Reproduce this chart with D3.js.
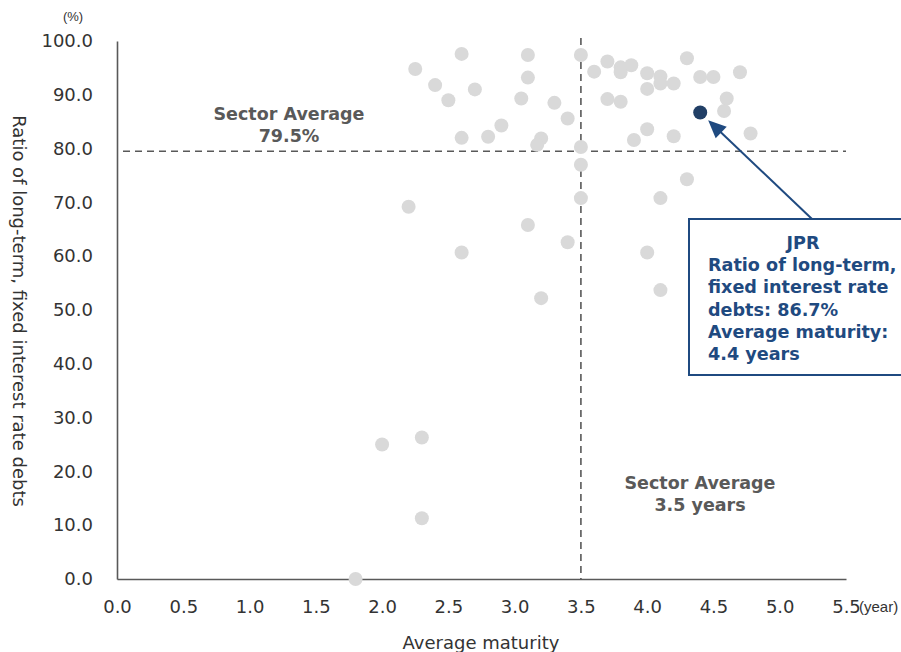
<!DOCTYPE html>
<html>
<head>
<meta charset="utf-8">
<script src="https://cdn.jsdelivr.net/npm/d3@7/dist/d3.min.js"></script>
<style>
  html, body { margin: 0; padding: 0; background: #fff; }
  svg { display: block; font-family: "DejaVu Sans", Verdana, sans-serif; }
</style>
</head>
<body>
<svg id="chart" width="901" height="652"></svg>
<script>
// Sector REITs: average maturity (years) vs. ratio of long-term, fixed interest rate debts (%)
const maturity = [2.25, 2.6, 3.1, 2.4, 2.7, 2.5, 3.1, 3.05, 3.3, 3.4, 2.9, 2.8, 2.6, 3.2, 3.17, 2.2,
  3.5, 3.5, 3.5, 3.5, 3.6, 3.7, 3.8, 3.88, 3.8, 4.0, 4.1, 4.1, 4.2, 4.3, 4.4, 4.5, 4.7, 4.0,
  3.7, 3.8, 4.6, 4.58, 4.78, 4.0, 3.9, 4.2, 4.3, 4.1, 2.6, 3.1, 3.4, 3.2, 4.0, 4.1, 2.0, 2.3, 2.3, 1.8];
const ratio = [94.8, 97.6, 97.4, 91.8, 91.0, 89.0, 93.2, 89.3, 88.5, 85.6, 84.3, 82.2, 82.0, 81.9, 80.7, 69.2,
  97.4, 80.3, 77.0, 70.8, 94.3, 96.2, 95.1, 95.5, 94.2, 94.0, 93.4, 92.1, 92.1, 96.8, 93.3, 93.3, 94.2, 91.1,
  89.2, 88.7, 89.3, 87.0, 82.8, 83.6, 81.6, 82.3, 74.3, 70.8, 60.7, 65.8, 62.6, 52.2, 60.7, 53.7, 25.0, 26.3, 11.3, 0.0];

const jprMaturity = 4.4;
const jprRatio = 86.7;
const avgMaturity = 3.5;
const avgRatio = 79.5;

const xTicks = [0, 0.5, 1, 1.5, 2, 2.5, 3, 3.5, 4, 4.5, 5, 5.5];
const yTicks = [0, 10, 20, 30, 40, 50, 60, 70, 80, 90, 100];

const jprLines = ["Ratio of long-term,", "fixed interest rate",
  "debts: " + jprRatio.toFixed(1) + "%", "Average maturity:", jprMaturity + " years"];

const svg = d3.select("#chart");
const plotLeft = 117, plotRight = 846, plotTop = 41, plotBottom = 579;

const x = d3.scaleLinear().domain([0, 5.5]).range([plotLeft, plotRight]);
const y = d3.scaleLinear().domain([0, 100]).range([plotBottom, plotTop]);

const axisColor = "#595959";
const textColor = "#333333";
const navy = "#1f4a80";
const narrow = "'Liberation Sans Narrow', 'Liberation Sans', Arial, sans-serif";

// Axes
const xAxis = svg.append("g").attr("transform", `translate(0,${plotBottom})`)
  .call(d3.axisBottom(x).tickValues(xTicks).tickFormat(d3.format(".1f")).tickSize(0).tickPadding(21));
const yAxis = svg.append("g").attr("transform", `translate(${plotLeft},0)`)
  .call(d3.axisLeft(y).tickValues(yTicks).tickFormat(d3.format(".1f")).tickSize(0).tickPadding(24));
[xAxis, yAxis].forEach(g => {
  g.select(".domain").attr("stroke", axisColor).attr("stroke-width", 1.6);
  g.selectAll("text").attr("fill", textColor).style("font-size", "18px")
    .style("font-family", "'DejaVu Sans', Verdana, sans-serif");
});

// Unit labels
svg.append("text").attr("x", 73).attr("y", 21).attr("text-anchor", "middle")
  .style("font-family", narrow).style("font-size", "13px").attr("fill", textColor).text("(%)");
svg.append("text").attr("x", 859).attr("y", 612)
  .style("font-family", narrow).style("font-size", "15px").attr("fill", textColor).text("(year)");

// Axis titles
svg.append("text").attr("x", 481).attr("y", 649).attr("text-anchor", "middle")
  .style("font-size", "18px").attr("fill", textColor).text("Average maturity");
svg.append("text").attr("transform", `translate(13,${(plotTop + plotBottom) / 2 + 1}) rotate(90)`)
  .attr("text-anchor", "middle").style("font-size", "18px").attr("fill", textColor)
  .text("Ratio of long-term, fixed interest rate debts");

// Sector average reference lines
svg.append("line").attr("x1", x(0) + 6).attr("x2", x(5.5)).attr("y1", y(avgRatio)).attr("y2", y(avgRatio))
  .attr("stroke", axisColor).attr("stroke-width", 1.6).attr("stroke-dasharray", "7,5");
svg.append("line").attr("x1", x(avgMaturity)).attr("x2", x(avgMaturity)).attr("y1", y(100) - 3).attr("y2", y(0))
  .attr("stroke", axisColor).attr("stroke-width", 1.6).attr("stroke-dasharray", "7,5");

// Sector points
svg.append("g").selectAll("circle").data(maturity).join("circle")
  .attr("cx", (d) => x(d)).attr("cy", (d, i) => y(ratio[i])).attr("r", 7)
  .attr("fill", "#d9d9d9");

// JPR point
svg.append("circle").attr("cx", x(jprMaturity)).attr("cy", y(jprRatio)).attr("r", 7)
  .attr("fill", "#213f66");

// Sector average labels
const avgLabel = (cx, cy, lines) => {
  const t = svg.append("text").attr("text-anchor", "middle").attr("fill", "#595959")
    .style("font-size", "17.5px").style("font-weight", "bold");
  lines.forEach((s, i) => t.append("tspan").attr("x", cx).attr("y", cy + i * 22).text(s));
};
avgLabel(289, 120, ["Sector Average", avgRatio.toFixed(1) + "%"]);
avgLabel(700, 489, ["Sector Average", avgMaturity + " years"]);

// JPR callout box
const boxX = 689, boxY = 219, boxW = 240, boxH = 156;
svg.append("rect").attr("x", boxX).attr("y", boxY).attr("width", boxW).attr("height", boxH)
  .attr("fill", "#fff").attr("stroke", navy).attr("stroke-width", 2);
const bt = svg.append("text").attr("fill", navy).style("font-size", "17.6px").style("font-weight", "bold");
bt.append("tspan").attr("x", 803).attr("y", 249).attr("text-anchor", "middle").text("JPR");
jprLines.forEach((s, i) => bt.append("tspan").attr("x", 708).attr("y", 271 + i * 22.3).text(s));

// Arrow from callout to the JPR point
const sx = 812, sy = boxY;
const px = x(jprMaturity), py = y(jprRatio);
const dx = px - sx, dy = py - sy, len = Math.hypot(dx, dy);
const ux = dx / len, uy = dy / len;
const tipX = px - ux * 11, tipY = py - uy * 11;
const headLen = 18, headW = 8;
const bx = tipX - ux * headLen, by = tipY - uy * headLen;
svg.append("line").attr("x1", sx).attr("y1", sy).attr("x2", bx + ux * 2).attr("y2", by + uy * 2)
  .attr("stroke", navy).attr("stroke-width", 2);
svg.append("path")
  .attr("d", `M${tipX},${tipY}L${bx - uy * headW},${by + ux * headW}L${bx + uy * headW},${by - ux * headW}Z`)
  .attr("fill", navy);
</script>
</body>
</html>
